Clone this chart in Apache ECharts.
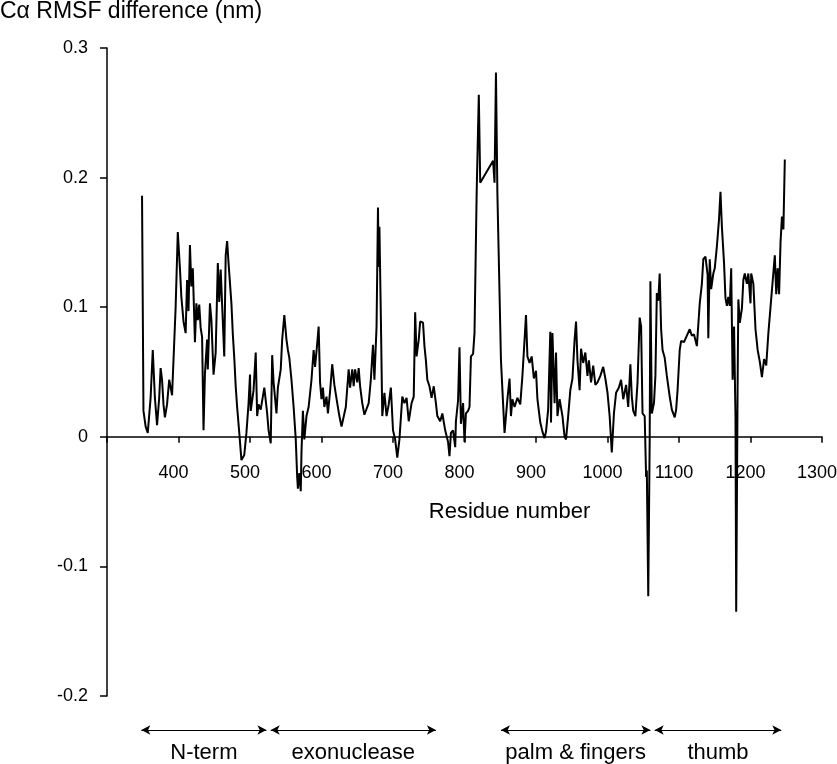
<!DOCTYPE html>
<html>
<head>
<meta charset="utf-8">
<script src="https://cdn.jsdelivr.net/npm/echarts@6/dist/echarts.min.js"></script>
<style>
  html, body { margin: 0; padding: 0; background: #fff; }
  #chart { width: 837px; height: 764px; }
</style>
</head>
<body>
<div id="chart"></div>
<script>
// residue numbers and the C-alpha RMSF difference (nm)
const residues = [
  349, 351, 354, 357, 361, 364, 367, 370, 373, 375, 377, 379, 381, 384, 387, 391, 396, 399, 402, 404,
  407, 410, 412, 414, 416, 418, 420, 423, 425, 427, 429, 431, 433, 435, 437, 440, 441, 444, 446, 449,
  452, 455, 457, 459, 461, 464, 466, 468, 470, 474, 476, 478, 480, 482, 485, 488, 492, 495, 498, 500,
  501, 505, 508, 510, 512, 515, 520, 524, 526, 529, 531, 533, 537, 539, 543, 545, 548, 551, 553, 555,
  558, 561, 564, 566, 567, 569, 571, 572, 574, 576, 579, 582, 586, 589, 591, 594, 596, 598, 600, 602,
  604, 607, 609, 612, 615, 618, 622, 625, 628, 632, 634, 638, 640, 643, 645, 647, 650, 652, 654, 657,
  660, 662, 666, 669, 672, 674, 677, 679, 680, 681, 683, 685, 688, 691, 694, 697, 700, 703, 706, 709,
  713, 716, 719, 722, 726, 729, 731, 733, 736, 738, 742, 744, 746, 748, 751, 754, 757, 760, 762, 766,
  769, 773, 777, 779, 781, 784, 787, 788, 791, 793, 795, 798, 800, 802, 805, 807, 809, 812, 814, 817,
  820, 822, 840, 842, 844, 846, 851, 856, 860, 863, 865, 867, 870, 874, 878, 881, 884, 886, 888, 891,
  894, 897, 900, 902, 906, 909, 912, 914, 917, 920, 921, 923, 926, 928, 930, 933, 937, 940, 942, 945,
  948, 951, 954, 956, 958, 961, 963, 966, 969, 972, 974, 977, 980, 983, 986, 990, 994, 997, 1000, 1003,
  1006, 1009, 1012, 1016, 1019, 1022, 1026, 1029, 1032, 1034, 1036, 1039, 1042, 1045, 1047, 1049, 1052, 1054, 1055, 1057,
  1059, 1060, 1062, 1065, 1067, 1069, 1071, 1073, 1075, 1077, 1080, 1083, 1087, 1090, 1094, 1096, 1098, 1101, 1103, 1107,
  1111, 1115, 1118, 1121, 1125, 1129, 1132, 1134, 1137, 1140, 1141, 1143, 1145, 1148, 1150, 1153, 1156, 1158, 1160, 1163,
  1165, 1167, 1169, 1171, 1173, 1175, 1177, 1179, 1180, 1182, 1183, 1185, 1188, 1190, 1192, 1195, 1197, 1200, 1201, 1204,
  1207, 1210, 1213, 1216, 1219, 1222, 1225, 1228, 1231, 1234, 1236, 1238, 1240, 1242, 1244, 1246, 1248
];
const rmsfDiff = [
  0.186, 0.020, 0.008, 0.003, 0.030, 0.067, 0.030, 0.009, 0.030, 0.053, 0.044, 0.025, 0.015, 0.025, 0.044, 0.032, 0.100, 0.158, 0.130, 0.108,
  0.089, 0.080, 0.121, 0.097, 0.148, 0.116, 0.130, 0.073, 0.103, 0.090, 0.102, 0.084, 0.077, 0.005, 0.049, 0.075, 0.052, 0.103, 0.090, 0.048,
  0.065, 0.134, 0.104, 0.129, 0.128, 0.062, 0.140, 0.151, 0.134, 0.103, 0.079, 0.061, 0.039, 0.023, 0.003, -0.018, -0.014, 0.003, 0.026, 0.048,
  0.020, 0.036, 0.065, 0.016, 0.025, 0.021, 0.038, 0.018, 0.005, -0.005, 0.063, 0.042, 0.018, 0.038, 0.052, 0.075, 0.094, 0.075, 0.067, 0.061,
  0.044, 0.023, -0.002, -0.031, -0.040, -0.028, -0.042, -0.012, 0.020, -0.002, 0.016, 0.023, 0.044, 0.067, 0.054, 0.072, 0.085, 0.042, 0.029, 0.038,
  0.023, 0.031, 0.018, 0.035, 0.056, 0.040, 0.026, 0.016, 0.008, 0.018, 0.023, 0.052, 0.038, 0.052, 0.039, 0.052, 0.042, 0.053, 0.039, 0.026,
  0.017, 0.016, 0.026, 0.044, 0.071, 0.044, 0.085, 0.177, 0.131, 0.162, 0.093, 0.016, 0.034, 0.016, 0.025, 0.038, 0.005, -0.002, -0.016, -0.002,
  0.031, 0.026, 0.030, 0.012, 0.026, 0.031, 0.096, 0.062, 0.075, 0.089, 0.088, 0.070, 0.059, 0.044, 0.039, 0.030, 0.039, 0.026, 0.016, 0.012,
  0.018, 0.005, -0.004, -0.015, 0.003, 0.005, -0.008, 0.012, 0.028, 0.069, 0.010, 0.026, -0.004, 0.018, 0.020, 0.023, 0.062, 0.064, 0.080, 0.188,
  0.264, 0.196, 0.213, 0.196, 0.281, 0.188, 0.059, 0.003, 0.029, 0.045, 0.016, 0.029, 0.023, 0.030, 0.025, 0.047, 0.075, 0.094, 0.062, 0.057,
  0.062, 0.045, 0.051, 0.029, 0.011, 0.004, -0.001, 0.004, 0.021, 0.081, 0.011, 0.080, 0.026, 0.065, 0.016, 0.029, 0.016, 0.000, -0.002, 0.016,
  0.036, 0.045, 0.075, 0.089, 0.059, 0.036, 0.068, 0.057, 0.065, 0.047, 0.059, 0.042, 0.055, 0.040, 0.042, 0.047, 0.054, 0.045, 0.034, 0.016,
  -0.012, 0.018, 0.034, 0.038, 0.044, 0.029, 0.040, 0.023, 0.056, 0.031, 0.020, 0.016, 0.042, 0.092, 0.085, 0.018, 0.016, -0.031, -0.026, -0.123,
  -0.002, 0.120, 0.018, 0.026, 0.047, 0.111, 0.105, 0.126, 0.083, 0.067, 0.061, 0.047, 0.031, 0.021, 0.015, 0.021, 0.036, 0.067, 0.074, 0.073,
  0.078, 0.083, 0.078, 0.079, 0.070, 0.103, 0.118, 0.137, 0.139, 0.125, 0.076, 0.137, 0.114, 0.126, 0.130, 0.147, 0.168, 0.189, 0.162, 0.134,
  0.107, 0.101, 0.108, 0.101, 0.130, 0.044, 0.085, 0.016, -0.135, 0.042, 0.106, 0.088, 0.099, 0.121, 0.126, 0.118, 0.126, 0.103, 0.126, 0.118,
  0.083, 0.067, 0.058, 0.046, 0.060, 0.055, 0.080, 0.100, 0.120, 0.140, 0.110, 0.130, 0.110, 0.150, 0.170, 0.160, 0.214
];

// domain ranges shown by the arrows under the plot
const domainNames = ['N-term', 'exonuclease', 'palm & fingers', 'thumb'];
const domainStart = [348, 529, 851, 1066];
const domainEnd = [523, 760, 1060, 1243];

const xTicks = { min: 300, max: 1300, step: 100 };
const yTicks = { min: -0.2, max: 0.3, step: 0.1 };

const FONT = 'Liberation Sans';
const GRID_TOP = 48;
const GRID_BOTTOM = 68;
const CHART_H = 764;
// x axis sits on y = 0: lift it from the grid bottom by the share of the range below zero
const plotH = CHART_H - GRID_TOP - GRID_BOTTOM;
const zeroOffset = -plotH * (0 - yTicks.min) / (yTicks.max - yTicks.min);

const chart = echarts.init(document.getElementById('chart'));

const option = {
  animation: false,
  backgroundColor: '#fff',
  title: {
    text: 'C\u03b1 RMSF difference (nm)',
    left: 0,
    top: 0,
    padding: 0,
    textStyle: { fontFamily: FONT, fontSize: 23, fontWeight: 'normal', color: '#000' }
  },
  grid: [
    { left: 107, right: 15, top: GRID_TOP, bottom: GRID_BOTTOM, containLabel: false, outerBoundsMode: 'none' },
    { left: 107, right: 15, top: 720, height: 20, outerBoundsMode: 'none' }
  ],
  xAxis: [
    {
      type: 'value',
      position: 'bottom',
      offset: zeroOffset,
      min: xTicks.min,
      max: xTicks.max,
      interval: xTicks.step,
      axisLine: { onZero: false, lineStyle: { color: '#000', width: 1.5 } },
      axisTick: { show: true, length: 6, lineStyle: { color: '#000', width: 1.5 } },
      splitLine: { show: false },
      axisLabel: {
        fontFamily: FONT,
        fontSize: 18,
        color: '#000',
        margin: 27,
        padding: [0, 10, 0, 0],
        formatter: v => (v === xTicks.min ? '' : String(v))
      },
      name: 'Residue number',
      nameLocation: 'middle',
      nameGap: 64,
      nameTextStyle: { fontFamily: FONT, fontSize: 22, color: '#000', padding: [0, 0, 0, 90] }
    },
    { gridIndex: 1, type: 'value', min: xTicks.min, max: xTicks.max, show: false }
  ],
  yAxis: [
    {
      type: 'value',
      min: yTicks.min,
      max: yTicks.max,
      interval: yTicks.step,
      axisLine: { show: true, onZero: false, lineStyle: { color: '#000', width: 1.5 } },
      axisTick: { show: true, length: 7, lineStyle: { color: '#000', width: 1.5 } },
      splitLine: { show: false },
      axisLabel: {
        fontFamily: FONT,
        fontSize: 18,
        color: '#000',
        margin: 19,
        formatter: v => (Math.abs(v) < 1e-9 ? '0' : v.toFixed(1))
      }
    },
    { gridIndex: 1, type: 'value', min: 0, max: 1, show: false }
  ],
  series: [
    {
      type: 'line',
      data: residues.map((r, i) => [r, rmsfDiff[i]]),
      showSymbol: false,
      symbol: 'none',
      lineStyle: { color: '#000', width: 2 },
      z: 3
    },
    {
      type: 'line',
      xAxisIndex: 1,
      yAxisIndex: 1,
      data: [],
      markLine: {
        silent: true,
        animation: false,
        symbol: ['arrow', 'arrow'],
        symbolSize: [7, 9],
        lineStyle: { color: '#000', width: 1, type: 'solid' },
        label: {
          show: true,
          position: 'insideMiddleBottom',
          distance: 12,
          formatter: '{b}',
          fontFamily: FONT,
          fontSize: 22,
          color: '#000'
        },
        data: domainNames.map((name, i) => [
          { name: name, coord: [domainStart[i], 0.5] },
          { coord: [domainEnd[i], 0.5] }
        ])
      }
    }
  ]
};

chart.setOption(option);
</script>
</body>
</html>
